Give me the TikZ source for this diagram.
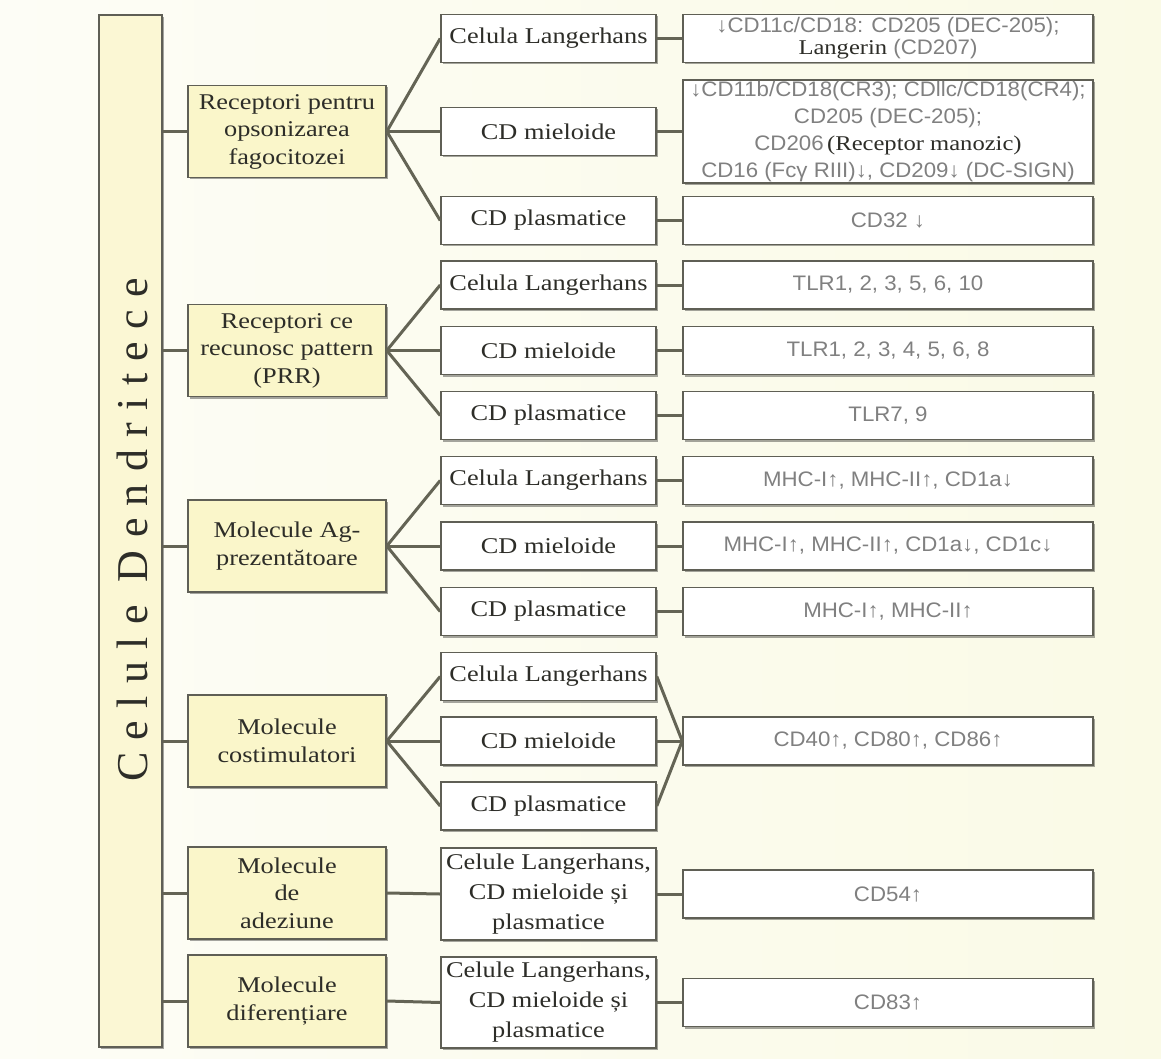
\documentclass[tikz,border=0pt]{standalone}
\usepackage{fontspec}
\setmainfont{Liberation Serif}[FakeStretch=1.17]
\setsansfont{Liberation Sans}[FakeStretch=1.06]
\newfontfamily\titlefont{Liberation Serif}[LetterSpace=28]
\usetikzlibrary{shadows}

\definecolor{bgl}{RGB}{253,253,246}
\definecolor{bgr}{RGB}{250,250,230}
\definecolor{catfill}{RGB}{250,246,202}
\definecolor{titlefill}{RGB}{251,247,212}
\definecolor{edgec}{RGB}{95,95,85}
\definecolor{linkc}{RGB}{100,100,85}
\definecolor{serifc}{RGB}{45,45,40}
\definecolor{markc}{RGB}{128,128,128}

\newcommand{\dn}{\textsf{↓}}
\newcommand{\up}{\textsf{↑}}
\newcommand{\rmdark}[1]{{\rmfamily\color{serifc}#1}}

\begin{document}
\begin{tikzpicture}[x=1pt,y=-1pt,
  link/.style={draw=linkc, line width=3pt},
  basebox/.style={draw=edgec, line width=1.6pt, inner sep=0pt, align=center,
    drop shadow={shadow xshift=1.5pt, shadow yshift=-2pt, fill=black, opacity=0.35}},
  titlebox/.style={basebox, fill=titlefill, minimum width=63pt, minimum height=1032pt},
  catbox/.style={basebox, fill=catfill, minimum width=198pt, minimum height=92pt,
    text=serifc, font=\rmfamily\fontsize{22.5}{27.5}\selectfont},
  cellbox/.style={basebox, fill=white, minimum width=215pt, minimum height=48pt,
    text=serifc, font=\rmfamily\fontsize{22.5}{30}\selectfont},
  markbox/.style={basebox, fill=white, minimum width=410pt, minimum height=48pt,
    text=markc, font=\sffamily\fontsize{21}{27}\selectfont}]

% background
\useasboundingbox (0,0) rectangle (1161,1059);
\shade[left color=bgl, right color=bgr] (0,0) rectangle (1161,1059);

% title column
\node[titlebox] (title) at (130.5,531) {};
\node[rotate=90, text=serifc, font=\titlefont\fontsize{44}{50}\selectfont] (titletext) at (132,530) {Celule Dendritece};

% categories
\node[catbox] (c1) at (287,131.5) {Receptori pentru\\opsonizarea\\fagocitozei};
\node[catbox] (c2) at (287,350.5) {Receptori ce\\recunosc pattern\\(PRR)};
\node[catbox] (c3) at (287,546) {Molecule Ag-\\prezentătoare};
\node[catbox] (c4) at (287,741) {Molecule\\costimulatori};
\node[catbox] (c5) at (287,893) {Molecule\\de\\adeziune};
\node[catbox] (c6) at (287,1001) {Molecule\\diferențiare};

% cell types
\node[cellbox] (l1) at (548.5,38.5) {Celula Langerhans};
\node[cellbox] (l2) at (548.5,131.5) {CD mieloide};
\node[cellbox] (l3) at (548.5,220.5) {CD plasmatice};
\node[cellbox] (l4) at (548.5,285) {Celula Langerhans};
\node[cellbox] (l5) at (548.5,350.5) {CD mieloide};
\node[cellbox] (l6) at (548.5,415.5) {CD plasmatice};
\node[cellbox] (l7) at (548.5,480.5) {Celula Langerhans};
\node[cellbox] (l8) at (548.5,546) {CD mieloide};
\node[cellbox] (l9) at (548.5,611.5) {CD plasmatice};
\node[cellbox] (l10) at (548.5,676.5) {Celula Langerhans};
\node[cellbox] (l11) at (548.5,741) {CD mieloide};
\node[cellbox] (l12) at (548.5,806) {CD plasmatice};
\node[cellbox, minimum height=92pt] (l13) at (548.5,894) {Celule Langerhans,\\CD mieloide și\\plasmatice};
\node[cellbox, minimum height=91pt] (l14) at (548.5,1002.5) {Celule Langerhans,\\CD mieloide și\\plasmatice};

% markers
\node[markbox, font=\sffamily\fontsize{21}{22}\selectfont] (m1) at (888,38.5)
  {\dn CD11c/CD18: CD205 (DEC-205);\\\rmdark{Langerin} (CD207)};
\node[markbox, minimum height=103pt] (m2) at (888,131.5)
  {\dn CD11b/CD18(CR3); CDllc/CD18(CR4);\\CD205 (DEC-205);\\CD206\,\rmdark{(Receptor manozic)}\\CD16 (Fcγ RIII)\dn, CD209\dn\ (DC-SIGN)};
\node[markbox] (m3) at (888,220.5) {CD32 \dn};
\node[markbox] (m4) at (888,285) {TLR1, 2, 3, 5, 6, 10};
\node[markbox] (m5) at (888,350.5) {TLR1, 2, 3, 4, 5, 6, 8};
\node[markbox] (m6) at (888,415.5) {TLR7, 9};
\node[markbox] (m7) at (888,480.5) {MHC-I\up, MHC-II\up, CD1a\dn};
\node[markbox] (m8) at (888,546) {MHC-I\up, MHC-II\up, CD1a\dn, CD1c\dn};
\node[markbox] (m9) at (888,611.5) {MHC-I\up, MHC-II\up};
\node[markbox] (m10) at (888,741) {CD40\up, CD80\up, CD86\up};
\node[markbox] (m11) at (888,894) {CD54\up};
\node[markbox] (m12) at (888,1002.5) {CD83\up};

% trunk: title column to categories
\foreach \c in {c1,c2,c3,c4,c5,c6}
  \draw[link] (title.east |- \c.west) -- (\c.west);

% categories to cell types
\foreach \c/\a/\b/\d in {c1/l1/l2/l3, c2/l4/l5/l6, c3/l7/l8/l9, c4/l10/l11/l12}{
  \draw[link] (\c.east) -- (\a.west);
  \draw[link] (\c.east) -- (\b.west);
  \draw[link] (\c.east) -- (\d.west);
}
\draw[link] (c5.east) -- (l13.west);
\draw[link] (c6.east) -- (l14.west);

% cell types to markers
\foreach \l/\m in {l1/m1, l2/m2, l3/m3, l4/m4, l5/m5, l6/m6, l7/m7, l8/m8, l9/m9, l11/m10, l13/m11, l14/m12}
  \draw[link] (\l.east) -- (\m.west);
\draw[link] (l10.east) -- (m10.west);
\draw[link] (l12.east) -- (m10.west);

\end{tikzpicture}
\end{document}
